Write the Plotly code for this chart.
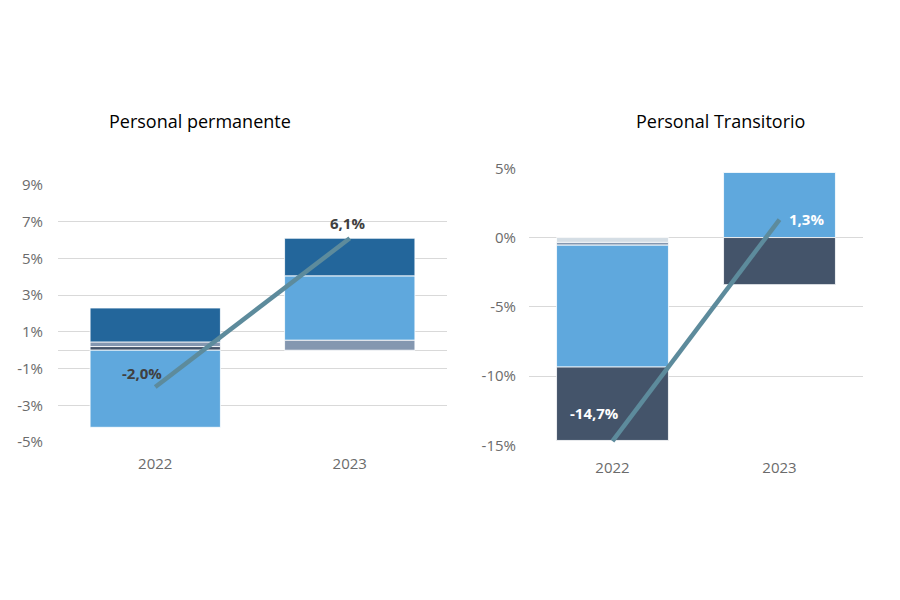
import plotly.graph_objects as go

years = ["2022", "2023"]

# Personal permanente components (%)
perm_navy = [0.2, 0.0]
perm_gray = [0.25, 0.55]
perm_lightblue = [-4.2, 3.5]
perm_darkblue = [1.85, 2.05]
perm_total = [-2.0, 6.1]
perm_labels = ["-2,0%", "6,1%"]

# Personal transitorio components (%)
tran_lightgray = [-0.35, 0.0]
tran_gray = [-0.2, 0.0]
tran_lightblue = [-8.8, 4.7]
tran_navy = [-5.3, -3.4]
tran_total = [-14.7, 1.3]
tran_labels = ["-14,7%", "1,3%"]

perm_ticks = [-5, -3, -1, 1, 3, 5, 7, 9]
perm_ticktext = ["-5%", "-3%", "-1%", "1%", "3%", "5%", "7%", "9%"]
tran_ticks = [-15, -10, -5, 0, 5]
tran_ticktext = ["-15%", "-10%", "-5%", "0%", "5%"]

C_NAVY = "#44546a"
C_GRAY = "#8497b0"
C_LIGHTBLUE = "#5fa8dd"
C_DARKBLUE = "#23669b"
C_LIGHTGRAY = "#d4dde4"
C_LINE = "#5d8b9c"
FONT = "Open Sans"

W, H, OFF = 900, 600, 8  # page body margin offset


def px(xp):
    return (xp - OFF) / W


def py(yp):
    return 1 - (yp - OFF) / H


xpos = list(range(len(years)))

fig = go.Figure()


def bar(y, color, xa, ya):
    fig.add_trace(go.Bar(x=xpos, y=y, width=0.67,
                         marker=dict(color=color, line=dict(color="white", width=0.8)),
                         xaxis=xa, yaxis=ya, showlegend=False, hoverinfo="skip"))


bar(perm_navy, C_NAVY, "x", "y")
bar(perm_gray, C_GRAY, "x", "y")
bar(perm_lightblue, C_LIGHTBLUE, "x", "y")
bar(perm_darkblue, C_DARKBLUE, "x", "y")
fig.add_trace(go.Scatter(x=xpos, y=perm_total, mode="lines", line=dict(color=C_LINE, width=4.5),
                         xaxis="x", yaxis="y", showlegend=False, hoverinfo="skip"))

bar(tran_lightgray, C_LIGHTGRAY, "x2", "y2")
bar(tran_gray, C_GRAY, "x2", "y2")
bar(tran_lightblue, C_LIGHTBLUE, "x2", "y2")
bar(tran_navy, C_NAVY, "x2", "y2")
fig.add_trace(go.Scatter(x=xpos, y=tran_total, mode="lines", line=dict(color=C_LINE, width=4.5),
                         xaxis="x2", yaxis="y2", showlegend=False, hoverinfo="skip"))

grid = "#d9d9d9"
tickfont = dict(family=FONT, size=15, color="#6b6b6b")

fig.update_layout(
    width=W, height=H,
    barmode="relative",
    paper_bgcolor="white", plot_bgcolor="white",
    margin=dict(l=0, r=0, t=0, b=0),
    font=dict(family=FONT),
    xaxis=dict(domain=[px(58), px(447)], anchor="y", range=[-0.5, 1.5],
               tickvals=xpos, ticktext=years, tickfont=tickfont, ticklabelstandoff=11,
               showgrid=False, zeroline=False, ticks="", showline=False, automargin=False),
    yaxis=dict(domain=[py(442), py(185)], anchor="x", range=[-5, 9],
               tickvals=perm_ticks, ticktext=perm_ticktext, tickfont=tickfont,
               showgrid=True, gridcolor=grid, gridwidth=1.3, zeroline=True, zerolinecolor=grid,
               zerolinewidth=1.3, ticklabelstandoff=14, automargin=False),
    xaxis2=dict(domain=[px(529), px(863)], anchor="y2", range=[-0.5, 1.5],
                tickvals=xpos, ticktext=years, tickfont=tickfont, ticklabelstandoff=12,
                showgrid=False, zeroline=False, ticks="", showline=False, automargin=False),
    yaxis2=dict(domain=[py(445.3), py(168.3)], anchor="x2", range=[-15, 5],
                tickvals=tran_ticks, ticktext=tran_ticktext, tickfont=tickfont,
                showgrid=True, gridcolor=grid, gridwidth=1.3, zeroline=True, zerolinecolor=grid,
                zerolinewidth=1.3, ticklabelstandoff=12, automargin=False),
)

ann = []
ann.append(dict(text="Personal permanente", x=px(200), y=py(121), xref="paper", yref="paper",
                xanchor="center", yanchor="middle",
                showarrow=False, font=dict(family=FONT, size=18, color="#000000")))
ann.append(dict(text="Personal Transitorio", x=px(720), y=py(121), xref="paper", yref="paper",
                xanchor="center", yanchor="middle",
                showarrow=False, font=dict(family=FONT, size=18, color="#000000")))
lab = dict(family=FONT, size=15, color="#404040")
ann.append(dict(text="<b>" + perm_labels[0] + "</b>", x=xpos[0], y=perm_total[0], xref="x", yref="y",
                xanchor="center", yanchor="middle",
                showarrow=False, xshift=-13, yshift=14, font=lab))
ann.append(dict(text="<b>" + perm_labels[1] + "</b>", x=xpos[1], y=perm_total[1], xref="x", yref="y",
                xanchor="center", yanchor="middle",
                showarrow=False, xshift=-2, yshift=15, font=lab))
labw = dict(family=FONT, size=15, color="white")
ann.append(dict(text="<b>" + tran_labels[0] + "</b>", x=xpos[0], y=tran_total[0], xref="x2", yref="y2",
                xanchor="center", yanchor="middle",
                showarrow=False, xshift=-18, yshift=28, font=labw))
ann.append(dict(text="<b>" + tran_labels[1] + "</b>", x=xpos[1], y=tran_total[1], xref="x2", yref="y2",
                xanchor="center", yanchor="middle",
                showarrow=False, xshift=27, yshift=1, font=labw))
fig.update_layout(annotations=ann)

fig.write_html("out.html")
